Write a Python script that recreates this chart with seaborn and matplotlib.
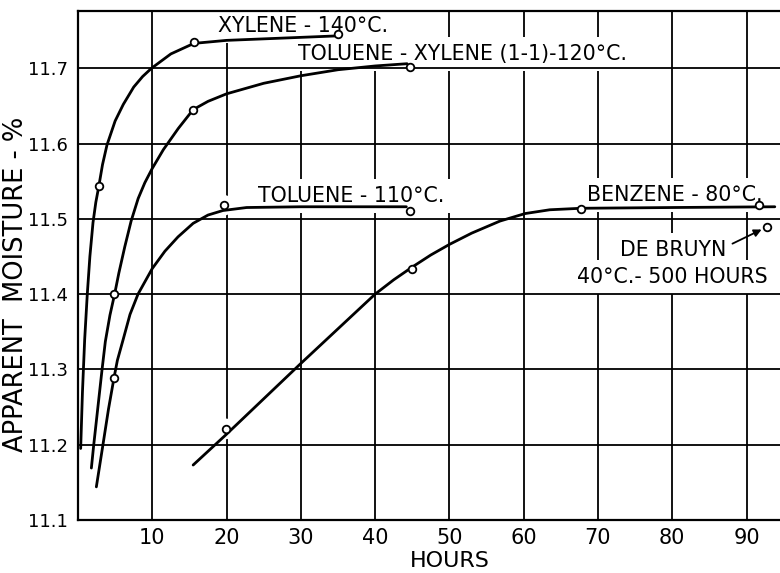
import matplotlib
matplotlib.use("Agg")
import matplotlib.pyplot as plt
import seaborn as sns
import pandas as pd

# ---------------- data ----------------
# smooth hand-drawn curves: hours / apparent moisture %
xylene_curve_h = [0.36, 0.6, 0.9, 1.25, 1.6, 2.02, 2.4, 2.78, 3.3, 3.9, 5.0, 6.1, 7.5, 8.7, 9.9, 12.5, 15.6, 20, 25, 30, 35]
xylene_curve_v = [11.195, 11.27, 11.34, 11.40, 11.45, 11.495, 11.522, 11.542, 11.572, 11.598, 11.630, 11.652, 11.675, 11.689, 11.700, 11.719, 11.733, 11.737, 11.739, 11.741, 11.743]

tolxyl_curve_h = [1.8, 2.12, 2.68, 3.24, 3.68, 4.3, 4.93, 5.5, 6.3, 7.15, 8.1, 9.0, 10.0, 11.5, 13.5, 15.5, 17.5, 20, 25, 30, 35, 40, 44.3]
tolxyl_curve_v = [11.169, 11.20, 11.25, 11.30, 11.337, 11.372, 11.40, 11.428, 11.463, 11.497, 11.527, 11.548, 11.567, 11.592, 11.620, 11.645, 11.656, 11.666, 11.680, 11.690, 11.698, 11.703, 11.706]

toluene_curve_h = [2.47, 3.36, 4.1, 4.85, 5.3, 6.06, 7.0, 8.08, 10.0, 11.7, 13.46, 15.5, 17.5, 19.5, 22.7, 30, 44.2]
toluene_curve_v = [11.144, 11.20, 11.247, 11.289, 11.312, 11.339, 11.373, 11.40, 11.434, 11.457, 11.476, 11.494, 11.505, 11.511, 11.515, 11.516, 11.516]

benzene_curve_h = [15.5, 20, 29.9, 40, 42.5, 45, 47.5, 50, 53, 56.8, 60.2, 63.5, 67.7, 80, 93.8]
benzene_curve_v = [11.173, 11.214, 11.307, 11.400, 11.419, 11.436, 11.452, 11.466, 11.481, 11.497, 11.507, 11.512, 11.514, 11.515, 11.516]

# observed points (open circles)
xylene_pts_h = [2.8, 15.6, 35.0]
xylene_pts_v = [11.544, 11.735, 11.745]
tolxyl_pts_h = [4.9, 15.5, 44.7]
tolxyl_pts_v = [11.400, 11.645, 11.702]
toluene_pts_h = [4.85, 19.6, 44.7]
toluene_pts_v = [11.289, 11.518, 11.511]
benzene_pts_h = [19.9, 45.0, 67.7, 91.7]
benzene_pts_v = [11.221, 11.433, 11.513, 11.518]
debruyn_h = [92.7]
debruyn_v = [11.489]

x_ticks = [10, 20, 30, 40, 50, 60, 70, 80, 90]
y_ticks = [11.1, 11.2, 11.3, 11.4, 11.5, 11.6, 11.7]
y_tick_labels = ["11.1", "11.2", "11.3", "11.4", "11.5", "11.6", "11.7"]

labels = {
    "xylene": "XYLENE - 140°C.",
    "tolxyl": "TOLUENE - XYLENE (1-1)-120°C.",
    "toluene": "TOLUENE - 110°C.",
    "benzene": "BENZENE - 80°C.",
    "debruyn1": "DE BRUYN",
    "debruyn2": "40°C.- 500 HOURS",
}

# ---------------- figure ----------------
sns.set_style("white")
plt.rcParams["font.family"] = ["DejaVu Sans"]
plt.rcParams["text.color"] = "black"
plt.rcParams["axes.labelcolor"] = "black"
plt.rcParams["xtick.color"] = "black"
plt.rcParams["ytick.color"] = "black"

fig = plt.figure(figsize=(7.8, 5.73), dpi=100)
ax = fig.add_axes([0.1, 0.0925, 0.9, 0.8883])
ax.set_xlim(0, 94.5)
ax.set_ylim(11.1, 11.776)

# grid: vertical lines below the label masks, horizontal lines above them
for xv in x_ticks:
    ax.axvline(xv, color="black", lw=1.3, zorder=0.5)
for yv in y_ticks[1:]:
    ax.axhline(yv, color="black", lw=1.3, zorder=1.5)

curve_kw = dict(color="black", lw=2.0, sort=False, estimator=None, ax=ax, zorder=3)
sns.lineplot(x=xylene_curve_h, y=xylene_curve_v, **curve_kw)
sns.lineplot(x=tolxyl_curve_h, y=tolxyl_curve_v, **curve_kw)
sns.lineplot(x=toluene_curve_h, y=toluene_curve_v, **curve_kw)
sns.lineplot(x=benzene_curve_h, y=benzene_curve_v, **curve_kw)

pts = pd.DataFrame({
    "h": xylene_pts_h + tolxyl_pts_h + toluene_pts_h + benzene_pts_h + debruyn_h,
    "v": xylene_pts_v + tolxyl_pts_v + toluene_pts_v + benzene_pts_v + debruyn_v,
})
# white halos that break the vertical grid around the points
sns.scatterplot(data=pts, x="h", y="v", s=220, color="white", edgecolor="none",
                linewidth=0, ax=ax, zorder=1.0, legend=False)
sns.scatterplot(data=pts, x="h", y="v", s=30, color="white", edgecolor="black",
                linewidth=1.3, ax=ax, zorder=4, legend=False, marker="o")

txt_kw = dict(fontsize=14.8, color="black", ha="left", va="baseline", zorder=1.0,
              bbox=dict(boxstyle="square,pad=0.35", fc="white", ec="none"))
ax.text(18.8, 11.748, labels["xylene"], **txt_kw)
ax.text(29.6, 11.711, labels["tolxyl"], **txt_kw)
ax.text(24.2, 11.5225, labels["toluene"], **txt_kw)
ax.text(68.5, 11.5235, labels["benzene"], **txt_kw)
ax.text(72.9, 11.4505, labels["debruyn1"], **txt_kw)
ax.text(67.2, 11.4146, labels["debruyn2"], clip_on=False, **txt_kw)

ax.annotate("", xy=(debruyn_h[0], debruyn_v[0]), xytext=(88.1, 11.467),
            arrowprops=dict(arrowstyle="-|>", color="black", lw=1.3,
                            mutation_scale=11, shrinkA=0, shrinkB=4),
            zorder=3)

ax.set_xticks(x_ticks)
ax.set_xticklabels([str(t) for t in x_ticks])
ax.set_yticks(y_ticks)
ax.set_yticklabels(y_tick_labels)
ax.tick_params(axis="x", length=0, pad=6, labelsize=15, labelcolor="black")
ax.tick_params(axis="y", length=0, pad=7, labelsize=13, labelcolor="black")

ax.set_xlabel("HOURS", fontsize=16, va="center", color="black")
ax.xaxis.set_label_coords(0.53, -0.080)
ax.set_ylabel("APPARENT  MOISTURE - %", fontsize=18.5, va="center", color="black")
ax.yaxis.set_label_coords(-0.088, 0.462)

for side in ["left", "bottom", "top"]:
    ax.spines[side].set_visible(True)
    ax.spines[side].set_color("black")
    ax.spines[side].set_linewidth(1.6)
    ax.spines[side].set_zorder(2.5)
ax.spines["right"].set_visible(False)

fig.savefig("out.png", dpi=100)
